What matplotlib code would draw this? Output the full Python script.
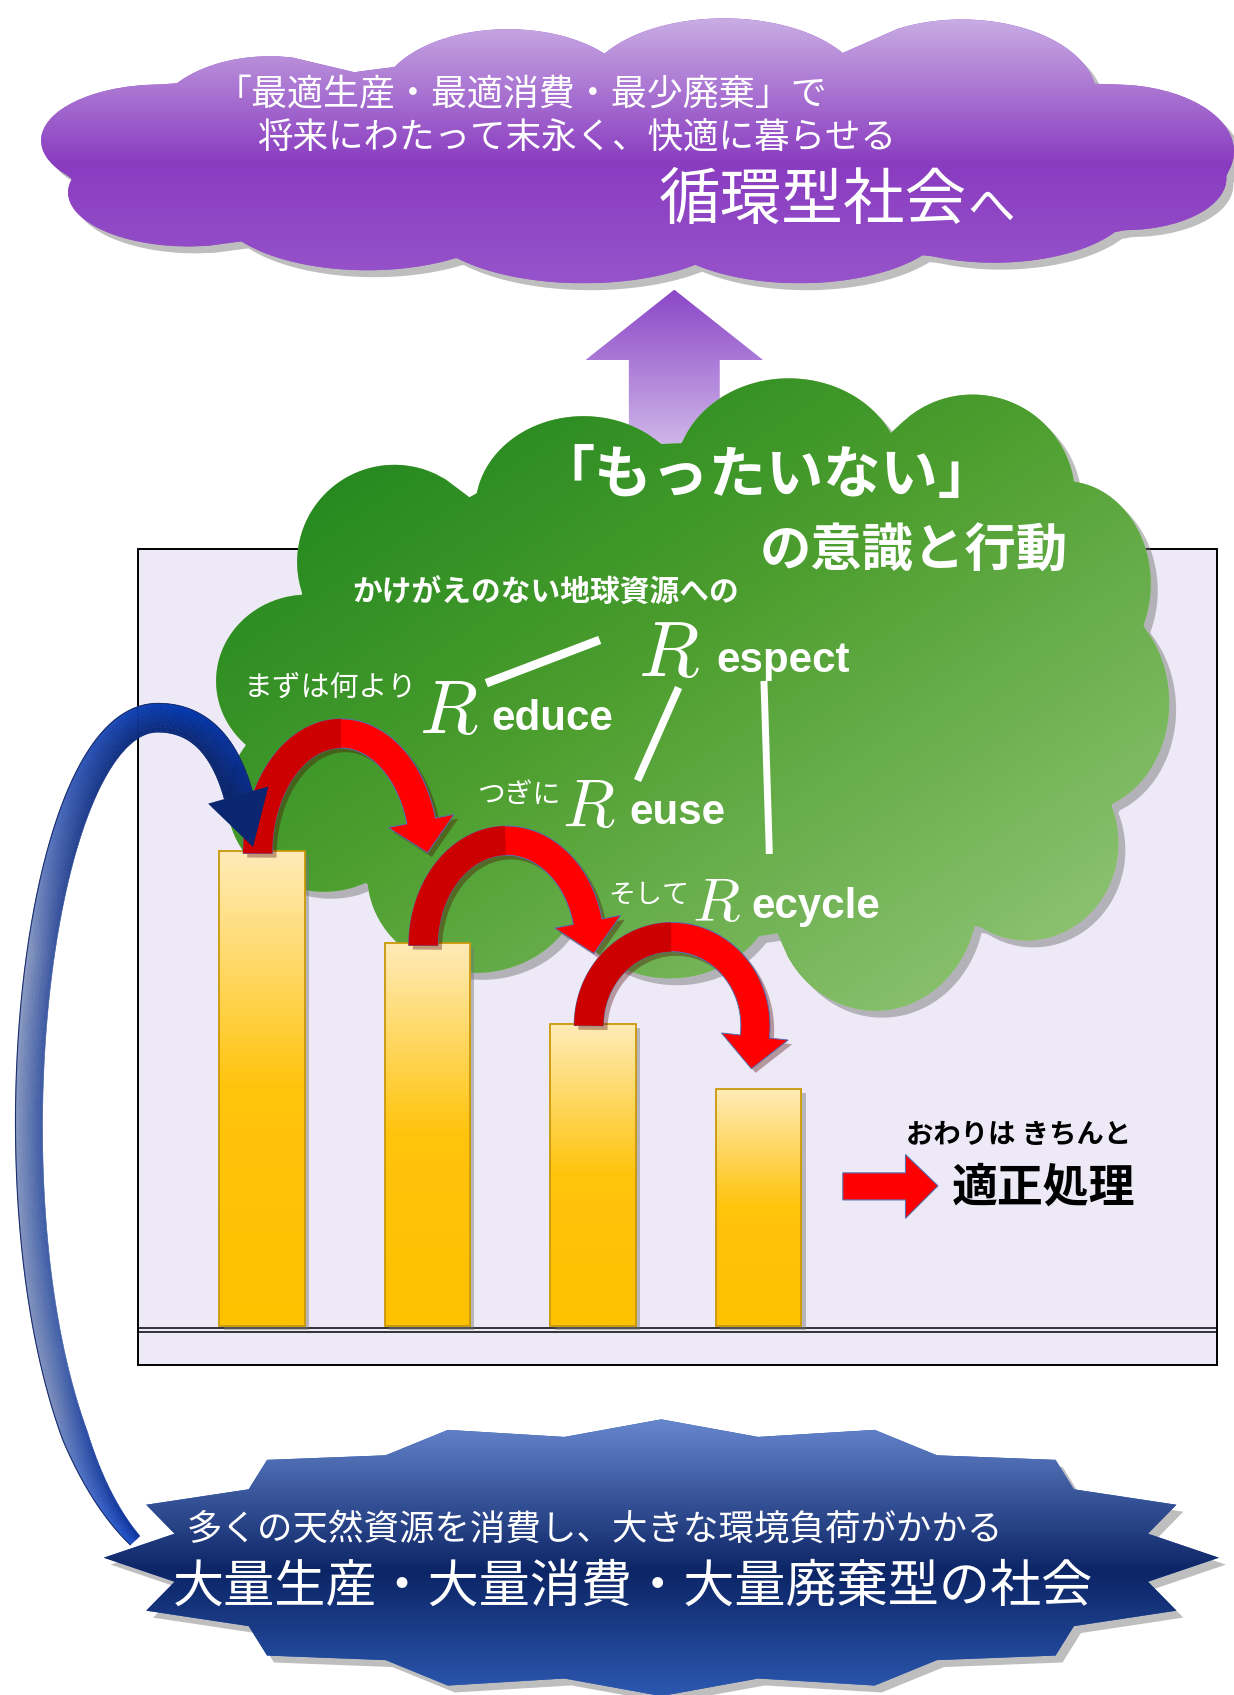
import numpy as np
import matplotlib
matplotlib.use('Agg')
import matplotlib.pyplot as plt
import matplotlib.patheffects as pe
from matplotlib.patches import Polygon, Rectangle
from matplotlib.collections import PolyCollection
from matplotlib.colors import LinearSegmentedColormap

plt.rcParams['font.family'] = ['Noto Sans CJK JP', 'DejaVu Sans']

# ---- data ----
stages = ['大量生産・大量消費・大量廃棄', 'Reduce', 'Reuse', 'Recycle']
amounts = [100.0, 80.6, 63.7, 50.0]   # relative waste amount per stage

goal_lines = ['「最適生産・最適消費・最少廃棄」で', '将来にわたって末永く、快適に暮らせる']
goal_title = ['循環型社会', 'へ']
mind_lines = ['「もったいない」', 'の意識と行動']
respect_note = 'かけがえのない地球資源への'
r_words = ['espect', 'educe', 'euse', 'ecycle']
r_notes = ['まずは何より', 'つぎに', 'そして']
end_note = 'おわりは きちんと'
end_title = '適正処理'
start_note = '多くの天然資源を消費し、大きな環境負荷がかかる'
start_title = '大量生産・大量消費・大量廃棄型の社会'

# working units: reference measured at 1142 x 1568
W, H = 1142, 1568


def fs(px):
    # em size in working px -> points at dpi 100
    return px * 1234 / 1142 * 0.72


def blob(lobes, center, n=900):
    c = np.array(center, float)
    th = np.linspace(0, 2 * np.pi, n, endpoint=False)
    u = np.column_stack([np.cos(th), np.sin(th)])
    best = np.zeros(n)
    for cx, cy, rx, ry in lobes:
        r = np.array([rx, ry], float)
        d = (c - [cx, cy]) / r
        v = u / r
        A = (v * v).sum(1)
        B = 2 * (v * d).sum(1)
        C = (d * d).sum() - 1
        disc = B * B - 4 * A * C
        t = (-B + np.sqrt(np.clip(disc, 0, None))) / (2 * A)
        best = np.maximum(best, np.where(disc >= 0, t, 0))
    return c + best[:, None] * u


def grad_patch(ax, verts, stops, diag=False, z=1, shadow=None):
    verts = np.asarray(verts, float)
    poly = Polygon(verts, closed=True, fc=stops[-1][1], ec='none', zorder=z)
    if shadow is not None:
        poly.set_path_effects([pe.SimplePatchShadow(offset=shadow, shadow_rgbFace='#6f6f6f', alpha=0.45),
                               pe.Normal()])
    ax.add_patch(poly)
    cmap = LinearSegmentedColormap.from_list('g', stops)
    g = np.linspace(0, 1, 300)
    if diag:
        gx, gy = np.meshgrid(g, g)
        t = (gx + gy) / 2
    else:
        t = np.repeat(g[:, None], 2, axis=1)
    (x0, y0), (x1, y1) = verts.min(0), verts.max(0)
    im = ax.imshow(cmap(t), extent=(x0, x1, y1, y0), origin='upper', aspect='auto',
                   interpolation='bilinear', zorder=z + 0.01)
    im.set_clip_path(poly)
    return poly


def unit_normals(c):
    d = np.gradient(c, axis=0)
    d /= np.linalg.norm(d, axis=1)[:, None]
    n = np.column_stack([-d[:, 1], d[:, 0]])
    return d, n


def arc_arrow(ax, x0, y0, x1, rise, drop=0, w=27, hw=62, hl=30):
    a = (x1 - x0) / 2
    cx = x0 + a
    th = np.arcsin(np.clip((hl - drop) / rise, -0.9, 0.9))
    t = np.linspace(np.pi, th, 160)
    c = np.column_stack([cx + a * np.cos(t), y0 - rise * np.sin(t)])
    d, n = unit_normals(c)
    out = c - n * w / 2
    inn = c + n * w / 2
    tip = c[-1] + d[-1] * hl
    body = np.vstack([out, c[-1] - n[-1] * hw / 2, tip, c[-1] + n[-1] * hw / 2, inn[::-1]])
    ax.add_patch(Polygon(body, fc='#FF0000', ec='#5470B0', lw=0.7, zorder=3,
                         path_effects=[pe.SimplePatchShadow(offset=(3, -3), alpha=0.35), pe.Normal()]))
    k = t >= np.pi / 2
    ax.add_patch(Polygon(np.vstack([out[k], inn[k][::-1]]), fc='#CC0000', ec='none', zorder=3.1))


def bez3(P, n):
    P = np.asarray(P, float)
    t = np.linspace(0, 1, n)[:, None]
    return (1 - t) ** 3 * P[0] + 3 * (1 - t) ** 2 * t * P[1] + 3 * (1 - t) * t ** 2 * P[2] + t ** 3 * P[3]


def bez2(P, n):
    P = np.asarray(P, float)
    t = np.linspace(0, 1, n)[:, None]
    return (1 - t) ** 2 * P[0] + 2 * (1 - t) * t * P[1] + t ** 2 * P[2]


fig = plt.figure(figsize=(12.34, 16.95), dpi=100)
fig.patch.set_facecolor('white')

back = fig.add_axes([0, 0, 1, 1], zorder=0)
back.set_xlim(0, W)
back.set_ylim(H, 0)
back.set_axis_off()

# ---- purple goal cloud ----
purple_lobes = [(250, 118, 110, 66), (470, 95, 120, 68), (670, 86, 130, 69), (890, 90, 125, 72),
                (1030, 140, 112, 62), (150, 130, 112, 52), (175, 178, 112, 50), (340, 190, 140, 60),
                (540, 200, 150, 62), (740, 200, 140, 62), (920, 185, 130, 58), (1040, 165, 95, 48),
                (590, 140, 450, 90)]
grad_patch(back, blob(purple_lobes, (590, 140)),
           [(0, '#C9ACE4'), (0.55, '#8A3CC0'), (1, '#9653CB')], z=2, shadow=(5, -5))
back.text(200, 88, goal_lines[0], color='white', fontsize=fs(33.3), ha='left', va='center', zorder=6)
back.text(238, 128, goal_lines[1], color='white', fontsize=fs(32.9), ha='left', va='center', zorder=6)
back.text(610, 187, goal_title[0], color='white', fontsize=fs(57), ha='left', va='center', zorder=6)
back.text(895, 192, goal_title[1], color='white', fontsize=fs(44), ha='left', va='center', zorder=6)

# ---- chart frame ----
back.add_patch(Rectangle((128, 508), 998, 755, fc='#EDE9F6', ec='black', lw=1.4, zorder=1))
back.plot([128, 1126], [1228.8, 1228.8], color='black', lw=1.1, zorder=1.5)
back.plot([128, 1126], [1232.6, 1232.6], color='black', lw=1.1, zorder=1.5)

# ---- purple up arrow ----
grad_patch(back, [(582, 440), (582, 333), (542, 333), (624, 268), (706, 333), (666, 333), (666, 440)],
           [(0, '#8C48C8'), (1, '#DCCBF0')], z=3)

# ---- green cloud ----
green_lobes = [(365, 520, 90, 90), (540, 470, 100, 85), (730, 440, 105, 90), (900, 460, 95, 95),
               (985, 540, 80, 95), (1000, 650, 82, 100), (950, 780, 85, 90), (810, 830, 95, 105),
               (620, 815, 100, 90), (440, 810, 100, 90), (300, 740, 90, 85), (285, 630, 85, 80),
               (640, 640, 330, 230)]
grad_patch(back, blob(green_lobes, (640, 640)),
           [(0, '#15801A'), (0.45, '#4C9E2E'), (1, '#9BCA80')], diag=True, z=4, shadow=(5, -5))

back.text(497, 440, mind_lines[0], color='white', fontsize=fs(53), weight='bold', ha='left', va='center', zorder=6)
back.text(703, 510, mind_lines[1], color='white', fontsize=fs(47.5), weight='bold', ha='left', va='center', zorder=6)
back.text(326, 548, respect_note, color='white', fontsize=fs(27.5), weight='bold', ha='left', va='center', zorder=6)

# R + word pairs: (R left, baseline, R cap px), word left
r_specs = [(590, 625, 50, 663), (388, 678, 48, 455), (520, 765, 43, 582), (640, 852, 39, 695)]
for (rx, ry, cap, wx), word in zip(r_specs, r_words):
    back.text(rx, ry, '$R$', color='white', fontsize=cap / 0.683 * 0.778, math_fontfamily='cm',
              ha='left', va='baseline', zorder=6)
    back.text(wx, ry - 3, word, color='white', fontsize=fs(39), family='Liberation Sans', weight='bold',
              ha='left', va='baseline', zorder=6)
for (nx, ny, px), note in zip([(226, 636, 26.7), (441, 735, 25.7), (563, 828, 25)], r_notes):
    back.text(nx, ny, note, color='white', fontsize=fs(px), ha='left', va='center', zorder=6)

for xs, ys, lw in [([450, 555], [632, 592], 6.2), ([628, 590], [636, 722], 5.5), ([707, 712], [630, 790], 5.0)]:
    back.plot(xs, ys, color='white', lw=lw, solid_capstyle='butt', zorder=6)

# ---- bar chart ----
bar_ax = fig.add_axes([128 / W, (H - 1263) / H, 998 / W, 755 / H], zorder=1)
bar_ax.patch.set_visible(False)
bar_ax.set_axis_off()
k = 100 / 439.0
bar_ax.set_ylim(-(1263 - 1226.5) * k, (1226.5 - 508) * k)
sp = 153.2
bar_ax.set_xlim(-114.5 / sp, (998 - 114.5) / sp)
x = np.arange(len(amounts))
bw = 79 / sp
bar_ax.bar(x, amounts, width=bw, color='none', edgecolor='none', zorder=1,
           path_effects=[pe.SimplePatchShadow(offset=(3, -3), shadow_rgbFace='#777777', alpha=0.45)])
bars = bar_ax.bar(x, amounts, width=bw, color='none', edgecolor='#C9980A', linewidth=1.3, zorder=3)
bar_cmap = LinearSegmentedColormap.from_list('bar', [(0, '#FFEBB8'), (0.5, '#FFC40C'), (1, '#FDC100')])
g = np.repeat(np.linspace(0, 1, 200)[:, None], 2, axis=1)
for rect in bars:
    im = bar_ax.imshow(bar_cmap(g), extent=(rect.get_x(), rect.get_x() + rect.get_width(), 0, rect.get_height()),
                       origin='upper', aspect='auto', interpolation='bilinear', zorder=2)
    im.set_clip_path(rect)

# ---- front layer ----
front = fig.add_axes([0, 0, 1, 1], zorder=2)
front.patch.set_visible(False)
front.set_xlim(0, W)
front.set_ylim(H, 0)
front.set_axis_off()


def to_front(xv, yv):
    return front.transData.inverted().transform(bar_ax.transData.transform((xv, yv)))


tops = [to_front(i, v) for i, v in enumerate(amounts)]
arc_rise = [111, 97, 82]
arc_drop = [0, 8, 40]
for i in range(len(tops) - 1):
    x0, y0 = tops[i]
    x1 = tops[i + 1][0]
    arc_arrow(front, x0 - 4, y0 + 2, x1 - 3, arc_rise[i], arc_drop[i])

# blue arrow from the mass-consumption society up to the first bar
bx, by = tops[0]
seg1 = bez3([(125, 1425), (-30, 1260), (15, 664), (146, 664)], 260)
seg2 = bez2([(146, 664), (bx - 42, 664), (bx - 22, by - 52)], 80)[1:]
c = np.vstack([seg1, seg2])
d, n = unit_normals(c)
s = np.concatenate([[0], np.cumsum(np.linalg.norm(np.diff(c, axis=0), axis=1))])
s /= s[-1]
wid = np.interp(s, [0, 0.12, 1], [12, 24, 27])
outer_cm = LinearSegmentedColormap.from_list('o', [(0, '#2256D0'), (0.15, '#7F90BC'), (0.6, '#8E9DC3'),
                                                  (0.8, '#2E55B8'), (0.9, '#0039B5'), (1, '#0A2A8A')])
inner_cm = LinearSegmentedColormap.from_list('i', [(0, '#0A2F9A'), (0.2, '#3E5EA8'), (0.6, '#3A56A0'),
                                                  (0.85, '#0B2A7C'), (1, '#0A2468')])
quads, cols = [], []
m = 8
for j in range(m):
    e0 = c + n * (wid * (j / m - 0.5))[:, None]
    e1 = c + n * (wid * ((j + 1) / m - 0.5))[:, None]
    u = (j + 0.5) / m
    for i in range(len(c) - 1):
        quads.append([e0[i], e0[i + 1], e1[i + 1], e1[i]])
        co = np.array(outer_cm(s[i])[:3])
        ci = np.array(inner_cm(s[i])[:3])
        cols.append(tuple(co * (1 - u) + ci * u))
front.add_collection(PolyCollection(quads, facecolors=cols, edgecolors=cols, linewidths=0.4, zorder=3))
front.plot(*(c - n * wid[:, None] / 2).T, color='#1A2F70', lw=0.8, zorder=3.1)
tip = c[-1] + d[-1] * 50
front.add_patch(Polygon([c[-1] - n[-1] * 29, tip, c[-1] + n[-1] * 29], fc='#0A2670', ec='none', zorder=3.1))

# starburst: mass production society
ang = np.pi / 2 + np.arange(32) * np.pi / 16
rr = np.where(np.arange(32) % 2 == 0, 1.0, 0.89)
star = np.column_stack([612 + 516 * rr * np.cos(ang), 1441 - 128 * rr * np.sin(ang)])
grad_patch(front, star, [(0, '#6686CE'), (0.55, '#0C2566'), (1, '#2C58B0')], z=4, shadow=(5, -5))
front.text(173, 1415, start_note, color='white', fontsize=fs(32.8), ha='left', va='center', zorder=5)
front.text(160, 1468, start_title, color='white', fontsize=fs(47.3), ha='left', va='center', zorder=5)

# proper disposal
front.add_patch(Polygon([(780, 1085), (838, 1085), (838, 1068), (868, 1097), (838, 1127), (838, 1110), (780, 1110)],
                        fc='#FF0000', ec='#5470B0', lw=0.8, zorder=3))
front.text(838, 1050, end_note, color='black', fontsize=fs(25.3), weight='bold', ha='left', va='center', zorder=5)
front.text(881, 1100, end_title, color='black', fontsize=fs(42.5), weight='bold', ha='left', va='center', zorder=5)

for ax in (back, front):
    ax.set_xlim(0, W)
    ax.set_ylim(H, 0)

fig.savefig('out.png', dpi=100)
